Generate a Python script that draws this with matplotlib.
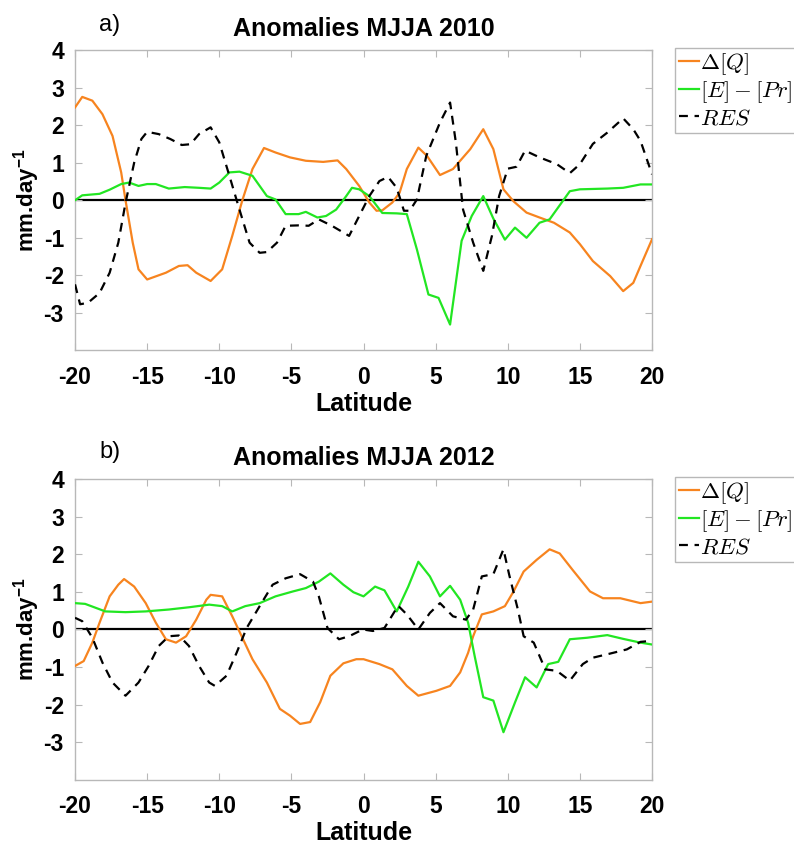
import matplotlib
matplotlib.use('Agg')
import matplotlib.pyplot as plt
from matplotlib.font_manager import FontProperties
import numpy as np

# ---- panel a) MJJA 2010 ----
lat_q_2010 = [-20, -19.5, -18.8, -18.1, -17.4, -16.8, -16.5, -16.0, -15.6, -15.0, -13.7, -12.8, -12.2,
              -11.6, -10.6, -9.8, -9.1, -8.4, -7.7, -6.9, -6.1, -5.1, -4.0, -2.8, -1.8, -1.2, -0.3,
              0.4, 0.9, 1.3, 2.0, 2.5, 3.0, 3.8, 4.4, 5.3, 6.2, 7.4, 8.3, 9.0, 9.7, 10.4, 11.3,
              12.2, 13.2, 14.3, 15.0, 15.9, 17.1, 18.0, 18.7, 19.2, 20]
q_2010 = [2.47, 2.75, 2.65, 2.29, 1.71, 0.74, 0.0, -1.13, -1.84, -2.11, -1.93, -1.75, -1.73,
          -1.93, -2.15, -1.84, -0.95, 0.0, 0.83, 1.39, 1.27, 1.14, 1.05, 1.02, 1.06, 0.83, 0.38,
          -0.06, -0.28, -0.27, -0.06, 0.2, 0.83, 1.4, 1.18, 0.67, 0.83, 1.36, 1.89, 1.36, 0.29, -0.03, -0.33,
          -0.46, -0.6, -0.86, -1.17, -1.62, -2.02, -2.42, -2.2, -1.75, -1.04]

lat_ep_2010 = [-20, -19.5, -18.3, -17.6, -16.8, -16.25, -15.6, -15.0, -14.4, -13.5, -12.4, -11.4, -10.6,
               -10.0, -9.3, -8.6, -7.7, -7.2, -6.7, -6.1, -5.4, -4.5, -4.0, -3.2, -2.6, -1.9, -1.2,
               -0.8, -0.3, 0.4, 1.3, 2.3, 3.0, 3.7, 4.5, 5.2, 6.0, 6.8, 7.5, 8.3, 9.0, 9.8, 10.5,
               11.3, 12.2, 12.9, 14.3, 15.0, 16.9, 18.0, 19.2, 20]
ep_2010 = [0.0, 0.13, 0.17, 0.28, 0.43, 0.47, 0.38, 0.43, 0.43, 0.31, 0.35, 0.33, 0.31,
           0.47, 0.74, 0.76, 0.65, 0.38, 0.11, 0.02, -0.37, -0.37, -0.31, -0.46, -0.42, -0.25, 0.11,
           0.33, 0.29, 0.11, -0.34, -0.35, -0.37, -1.31, -2.51, -2.6, -3.31, -1.08, -0.42, 0.11, -0.49, -1.05, -0.73,
           -1.0, -0.6, -0.51, 0.24, 0.29, 0.31, 0.33, 0.42, 0.42]

lat_res_2010 = [-20, -19.65, -19.1, -18.3, -17.6, -17.0, -16.5, -15.9, -15.4, -15.0, -14.2, -13.4, -12.6,
                -12.0, -11.4, -10.6, -10.0, -9.3, -8.6, -7.9, -7.2, -6.7, -6.0, -5.4, -4.5, -3.8, -3.1,
                -2.2, -1.0, -0.3, 0.4, 1.1, 1.7, 2.3, 2.8, 3.2, 3.7, 4.35, 5.3, 6.0, 6.4, 6.9, 7.6,
                8.3, 8.9, 9.4, 10.0, 10.6, 11.2, 12.2, 13.4, 14.3, 15.0, 15.9, 16.9, 18.0, 18.7, 19.2, 20]
res_2010 = [-2.24, -2.77, -2.73, -2.47, -1.93, -1.13, -0.07, 1.0, 1.63, 1.82, 1.76, 1.63, 1.47,
            1.49, 1.76, 1.94, 1.54, 0.65, -0.25, -1.13, -1.4, -1.38, -1.13, -0.68, -0.67, -0.68, -0.51,
            -0.68, -0.95, -0.42, 0.11, 0.51, 0.62, 0.33, -0.28, -0.28, 0.02, 1.18, 2.07, 2.6, 1.54, -0.25, -1.13,
            -1.88, -0.95, 0.11, 0.84, 0.89, 1.32, 1.14, 0.96, 0.72, 0.96, 1.5, 1.8, 2.18, 1.89, 1.58, 0.69]

# ---- panel b) MJJA 2012 ----
lat_q_2012 = [-20, -19.4, -18.8, -18.3, -17.6, -17.0, -16.6, -15.9, -15.1, -14.4, -13.7, -13.0, -12.3,
              -11.6, -10.9, -10.6, -9.8, -9.1, -8.4, -7.7, -6.7, -5.8, -5.1, -4.4, -3.7, -3.0, -2.3,
              -1.4, -0.5, 0.0, 1.1, 2.0, 3.0, 3.8, 5.05, 6.0, 6.7, 7.25, 7.6, 8.2, 9.0, 9.8, 10.4,
              11.1, 12.0, 12.9, 13.6, 14.5, 15.7, 16.6, 17.8, 19.2, 20]
q_2012 = [-0.97, -0.84, -0.35, 0.18, 0.88, 1.19, 1.34, 1.14, 0.7, 0.18, -0.26, -0.35, -0.18,
          0.26, 0.79, 0.92, 0.88, 0.35, -0.22, -0.79, -1.41, -2.11, -2.29, -2.51, -2.46, -1.93, -1.23,
          -0.9, -0.79, -0.79, -0.92, -1.06, -1.5, -1.76, -1.63, -1.5, -1.14, -0.62, -0.18, 0.4, 0.48, 0.62, 1.01,
          1.54, 1.85, 2.13, 2.02, 1.58, 1.01, 0.83, 0.83, 0.7, 0.74]

lat_ep_2012 = [-20, -19.3, -17.9, -16.5, -15.1, -13.5, -12.1, -10.7, -9.8, -9.1, -8.2, -7.2, -6.1,
               -4.9, -4.0, -3.1, -2.3, -1.4, -0.7, 0.0, 0.8, 1.45, 2.3, 3.1, 3.8, 4.6, 5.3, 6.0,
               6.7, 7.25, 7.7, 8.3, 9.0, 9.7, 10.5, 11.2, 12.0, 12.8, 13.5, 14.3, 15.5, 16.9, 18.0, 19.2, 20]
ep_2012 = [0.7, 0.68, 0.48, 0.46, 0.48, 0.53, 0.59, 0.66, 0.62, 0.48, 0.62, 0.7, 0.88,
           1.01, 1.1, 1.27, 1.49, 1.19, 0.99, 0.88, 1.14, 1.04, 0.48, 1.14, 1.8, 1.41, 0.88, 1.16,
           0.79, 0.18, -0.7, -1.8, -1.89, -2.73, -1.94, -1.27, -1.54, -0.92, -0.86, -0.26, -0.22, -0.15, -0.25, -0.35, -0.4]

lat_res_2012 = [-20, -19.5, -18.8, -18.1, -17.4, -16.5, -15.6, -14.9, -14.2, -13.5, -12.8, -12.1, -11.4,
                -10.7, -10.3, -9.5, -8.8, -8.1, -7.2, -6.3, -5.4, -4.4, -3.5, -3.1, -2.5, -1.7, -1.0,
                -0.05, 0.65, 1.45, 2.4, 3.0, 3.8, 4.6, 5.3, 6.2, 7.1, 7.6, 8.2, 9.0, 9.7, 10.1, 10.7,
                11.1, 11.8, 12.6, 13.4, 14.3, 15.2, 15.9, 17.1, 18.25, 19.2, 20]
res_2012 = [0.31, 0.22, -0.22, -0.88, -1.41, -1.76, -1.41, -0.97, -0.44, -0.18, -0.16, -0.44, -0.97,
            -1.41, -1.5, -1.23, -0.62, 0.04, 0.62, 1.19, 1.36, 1.47, 1.27, 0.88, 0.04, -0.26, -0.18,
            0.0, -0.04, 0.04, 0.63, 0.4, 0.0, 0.44, 0.7, 0.35, 0.26, 0.53, 1.41, 1.47, 2.13, 1.45, 0.53,
            -0.18, -0.35, -1.06, -1.1, -1.36, -0.92, -0.75, -0.64, -0.53, -0.33, -0.3]

titles = ['Anomalies MJJA 2010', 'Anomalies MJJA 2012']
panel_tags = ['a)', 'b)']
legend_labels = [r'$\Delta[Q]$', r'$[E]-[Pr]$', r'$RES$']
xticks = [-20, -15, -10, -5, 0, 5, 10, 15, 20]
yticks = [-3, -2, -1, 0, 1, 2, 3, 4]

plt.rcParams['font.family'] = ['Liberation Sans', 'DejaVu Sans']
plt.rcParams['font.weight'] = 'bold'
plt.rcParams['mathtext.fontset'] = 'custom'
plt.rcParams['mathtext.rm'] = 'Liberation Sans'
plt.rcParams['mathtext.bf'] = 'Liberation Sans:bold'

c_q = '#f7841f'
c_ep = '#22e622'
c_res = 'black'
spine_col = '#b8b8b8'

fig = plt.figure(figsize=(7.94, 8.48), dpi=100)
ax_a = fig.add_axes([0.0945, 0.5867, 0.7267, 0.3544])
ax_b = fig.add_axes([0.0945, 0.0802, 0.7267, 0.3550])

panels = [
	(ax_a, lat_q_2010, q_2010, lat_ep_2010, ep_2010, lat_res_2010, res_2010),
	(ax_b, lat_q_2012, q_2012, lat_ep_2012, ep_2012, lat_res_2012, res_2012),
]

leg_prop = FontProperties(family='DejaVu Serif', size=16.5, math_fontfamily='cm')

for i, (ax, lq, q, le, ep, lr, res) in enumerate(panels):
	ax.axhline(0, color='black', lw=1.6, zorder=1)
	ax.plot(lq, q, color=c_q, lw=1.6, label=legend_labels[0], zorder=3)
	ax.plot(le, ep, color=c_ep, lw=1.6, label=legend_labels[1], zorder=3)
	ax.plot(lr, res, color=c_res, lw=1.6, ls=(0, (4, 3)), label=legend_labels[2], zorder=4)
	ax.set_xlim(-20, 20)
	ax.set_ylim(-4, 4)
	ax.set_xticks(xticks)
	ax.set_xticklabels([str(t) for t in xticks])
	ax.set_yticks(yticks)
	ax.set_yticklabels([str(t) for t in yticks])
	ax.tick_params(direction='in', top=True, right=True, color=spine_col, length=5,
	               labelsize=16.5, width=0.8)
	ax.tick_params(axis='x', pad=11)
	ax.tick_params(axis='y', pad=8)
	for s in ax.spines.values():
		s.set_color(spine_col)
		s.set_linewidth(1.0)
	ax.set_title(titles[i], fontsize=18, fontweight='bold', pad=10)
	ax.set_xlabel('Latitude', fontsize=18, fontweight='bold', labelpad=2)
	ax.set_ylabel(r'mm.day$^{\mathbf{-1}}$', fontsize=16, fontweight='bold', labelpad=1)
	lgd = ax.legend(loc='upper left', bbox_to_anchor=(1.040, 1.008), prop=leg_prop,
	                handlelength=0.9, handletextpad=0.05, borderpad=0.15, labelspacing=0.1,
	                borderaxespad=0, fancybox=False, edgecolor=spine_col, framealpha=1)
	lgd.get_frame().set_linewidth(1.0)

fig.text(0.138, 0.9705, panel_tags[0], fontsize=17, fontweight='normal', ha='center', va='center')
fig.text(0.138, 0.467, panel_tags[1], fontsize=17, fontweight='normal', ha='center', va='center')

plt.savefig('out.png', dpi=100)
